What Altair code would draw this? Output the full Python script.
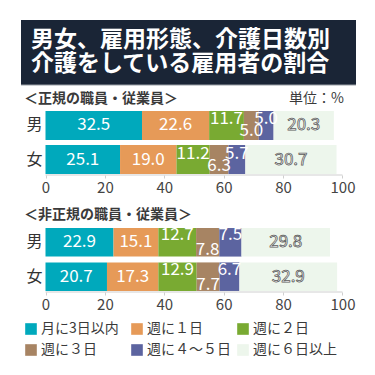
import altair as alt
import pandas as pd

FONT = "Noto Sans CJK JP"

TITLE_LINES = ["男女、雇用形態、介護日数別", "介護をしている雇用者の割合"]
PANEL_TITLES = ["＜正規の職員・従業員＞", "＜非正規の職員・従業員＞"]
UNIT_LABEL = "単位：%"
SEXES = ["男", "女"]
CATEGORIES = ["月に3日以内", "週に１日", "週に２日", "週に３日", "週に４～５日", "週に６日以上"]
COLORS = ["#00a9bc", "#e69a58", "#79aa32", "#a78463", "#5c64a0", "#edf6ec"]
REGULAR_MALE = [32.5, 22.6, 11.7, 5.0, 5.0, 20.3]
REGULAR_FEMALE = [25.1, 19.0, 11.2, 6.3, 5.7, 30.7]
NONREG_MALE = [22.9, 15.1, 12.7, 7.8, 7.5, 29.8]
NONREG_FEMALE = [20.7, 17.3, 12.9, 7.7, 6.7, 32.9]
TICKS = [0, 20, 40, 60, 80, 100]

CENTER_CATS = [CATEGORIES[0], CATEGORIES[1]]
UP_CATS = [CATEGORIES[2], CATEGORIES[4]]
DOWN_CATS = [CATEGORIES[3]]
OUTLINE_CATS = [CATEGORIES[5]]

W = 335
X_DOMAIN = [-8.25, 104.55]


def title_chart():
    df = pd.DataFrame({"line": TITLE_LINES, "row": [0, 1]})
    base = alt.Chart(df)
    t1 = base.transform_filter("datum.row == 0").mark_text(
        align="left", baseline="middle", font=FONT, fontSize=23, fontWeight="bold", color="white"
    ).encode(text="line:N", x=alt.value(10), y=alt.value(20))
    t2 = base.transform_filter("datum.row == 1").mark_text(
        align="left", baseline="middle", font=FONT, fontSize=23, fontWeight="bold", color="white"
    ).encode(text="line:N", x=alt.value(10), y=alt.value(44))
    rule = base.transform_filter("datum.row == 0").mark_rule(color="#9aa0a6", strokeWidth=1).encode(
        x=alt.value(0), x2=alt.value(W), y=alt.value(65)
    )
    return alt.layer(t1, t2, rule).properties(
        width=W, height=65, view=alt.ViewBackground(fill="#1a2536", stroke=None)
    )


def header_chart(text, height, ty, unit=None):
    df = pd.DataFrame({"t": [text], "u": [unit or ""]})
    base = alt.Chart(df)
    layers = [
        base.mark_text(
            align="left", baseline="middle", font=FONT, fontSize=14, fontWeight="bold", color="#3a3a3a"
        ).encode(text="t:N", x=alt.value(3), y=alt.value(ty))
    ]
    if unit:
        layers.append(
            base.mark_text(
                align="right", baseline="middle", font=FONT, fontSize=14, color="#3a3a3a"
            ).encode(text="u:N", x=alt.value(323), y=alt.value(ty))
        )
    return alt.layer(*layers).properties(width=W, height=height)


def bars_chart(male, female, height, pi, po, up_dy, down_dy):
    rows = []
    for sex, vals in zip(SEXES, [male, female]):
        for i, (c, v) in enumerate(zip(CATEGORIES, vals)):
            rows.append({"sex": sex, "cat": c, "idx": i, "value": v})
    df = pd.DataFrame(rows)
    base = alt.Chart(df).transform_stack(
        stack="value", groupby=["sex"], sort=[alt.SortField("idx", order="ascending")], as_=["x0", "x1"]
    ).transform_calculate(mid="(datum.x0 + datum.x1) / 2")

    xscale = alt.Scale(domain=X_DOMAIN, nice=False, zero=False)
    yenc = alt.Y(
        "sex:N", sort=SEXES, axis=None,
        scale=alt.Scale(domain=SEXES, paddingInner=pi, paddingOuter=po),
    )
    bars = base.mark_bar().encode(
        x=alt.X(
            "x0:Q", scale=xscale, title=None,
            axis=alt.Axis(
                values=TICKS, domain=False, grid=False, ticks=True, tickSize=3,
                tickColor="#cfcfcf", labelFontSize=15, labelColor="#444444", labelFont=FONT,
                labelPadding=2, format="d",
            ),
        ),
        x2="x1:Q",
        y=yenc,
        color=alt.Color(
            "cat:N",
            scale=alt.Scale(domain=CATEGORIES, range=COLORS),
            legend=alt.Legend(
                orient="none", legendX=3, legendY=302, columns=3, direction="horizontal",
                title=None, symbolType="square", symbolSize=135, symbolStrokeWidth=0,
                labelFontSize=14, labelFont=FONT, labelColor="#3a3a3a", labelOffset=3,
                columnPadding=5, rowPadding=7, gridAlign="all", padding=0, labelLimit=0,
            ),
        ),
    )

    def labels(cats, dy, **style):
        return base.transform_filter(
            alt.FieldOneOfPredicate(field="cat", oneOf=cats)
        ).mark_text(font=FONT, fontSize=17, baseline="middle", dy=dy, **style).encode(
            x=alt.X("mid:Q", scale=xscale),
            y=yenc,
            text=alt.Text("value:Q", format=".1f"),
        )

    t_center = labels(CENTER_CATS, 0, color="white")
    t_up = labels(UP_CATS, up_dy, color="white")
    t_down = labels(DOWN_CATS, down_dy, color="white")
    t_outline = labels(OUTLINE_CATS, 0, fill="white", stroke="#5a5a5a", strokeWidth=0.75)

    sex_labels = alt.Chart(pd.DataFrame({"sex": SEXES})).mark_text(
        font=FONT, fontSize=16, color="#333333", align="center", baseline="middle"
    ).encode(x=alt.value(13.5), y=yenc, text="sex:N")

    axis_df = pd.DataFrame({"a": [TICKS[0]], "b": [TICKS[-1]]})
    axis_line = alt.Chart(axis_df).mark_rule(color="#cfcfcf", strokeWidth=1).encode(
        x=alt.X("a:Q", scale=xscale), x2="b:Q", y=alt.value(height)
    )

    return alt.layer(bars, axis_line, t_center, t_up, t_down, t_outline, sex_labels).properties(
        width=W, height=height
    )


chart = alt.vconcat(
    title_chart(),
    header_chart(PANEL_TITLES[0], 25, 13.5, UNIT_LABEL),
    bars_chart(REGULAR_MALE, REGULAR_FEMALE, 65, 0.147, 0.029, -6, 6),
    header_chart(PANEL_TITLES[1], 52, 40),
    bars_chart(NONREG_MALE, NONREG_FEMALE, 65, 0.17, 0.03, -7, 8),
    spacing=0,
    bounds="flush",
).properties(
    padding={"left": 12, "top": 12, "right": 5, "bottom": 5},
    background="white",
).configure_view(stroke=None)

chart.save("out.html", embed_options={"renderer": "svg", "actions": False})
